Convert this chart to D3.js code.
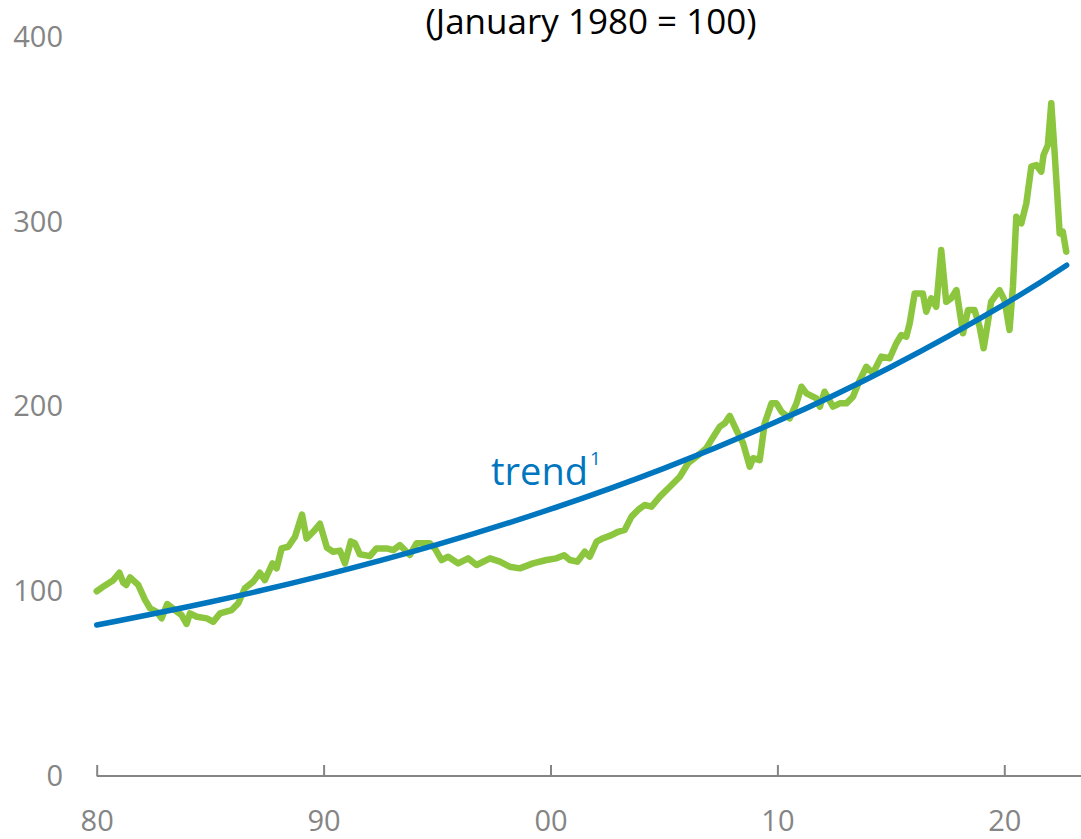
<!DOCTYPE html>
<html>
<head>
<meta charset="utf-8">
<script src="https://cdn.jsdelivr.net/npm/d3@7"></script>
<style>
  html, body { margin: 0; padding: 0; background: #fff; }
  svg { display: block; font-family: "Open Sans", "Noto Sans", sans-serif; }
</style>
</head>
<body>
<svg id="chart" width="1081" height="839"></svg>
<script>
// ---- data ----
const title = "(January 1980 = 100)";
const trendLabel = "trend";
const xTickYears = [1980, 1990, 2000, 2010, 2020];
const xTickLabels = ["80", "90", "00", "10", "20"];
const yTicks = [0, 100, 200, 300, 400];

// index series: decimal year and index value
const indexDates = [
  1980.00,1980.35,1980.73,1981.00,1981.17,1981.30,1981.47,1981.83,1982.13,1982.35,
  1982.64,1982.86,1983.11,1983.45,1983.74,1983.96,1984.11,1984.41,1984.85,1985.14,
  1985.43,1985.95,1986.24,1986.53,1986.90,1987.19,1987.41,1987.75,1987.93,1988.15,
  1988.44,1988.74,1989.05,1989.25,1989.54,1989.84,1990.15,1990.42,1990.72,1990.94,
  1991.20,1991.38,1991.60,1992.04,1992.33,1992.78,1993.07,1993.36,1993.80,1994.10,
  1994.68,1994.90,1995.20,1995.49,1995.93,1996.37,1996.74,1997.33,1997.77,1998.20,
  1998.65,1999.23,1999.82,2000.26,2000.60,2000.85,2001.18,2001.51,2001.73,2002.03,
  2002.32,2002.69,2002.98,2003.27,2003.57,2003.86,2004.15,2004.45,2004.82,2005.26,
  2005.70,2006.06,2006.43,2006.87,2007.09,2007.46,2007.68,2007.90,2008.19,2008.49,
  2008.70,2008.78,2008.93,2009.22,2009.44,2009.74,2009.96,2010.18,2010.54,2010.84,
  2011.06,2011.28,2011.72,2011.87,2012.08,2012.45,2012.75,2013.04,2013.33,2013.63,
  2013.92,2014.21,2014.58,2014.95,2015.24,2015.46,2015.68,2015.83,2016.05,2016.41,
  2016.56,2016.78,2017.00,2017.22,2017.44,2017.66,2017.89,2018.18,2018.40,2018.69,
  2018.91,2019.09,2019.20,2019.42,2019.79,2020.01,2020.23,2020.38,2020.53,2020.75,
  2020.97,2021.19,2021.41,2021.63,2021.73,2021.92,2022.07,2022.22,2022.44,2022.58,
  2022.73
];
const indexValues = [
  100,103,106,110,104.6,103.4,107.5,103.4,95.3,90.8,
  88.9,85.3,93.1,89.8,87.1,82.3,88,86.2,85.3,83.5,
  88,89.8,93.5,101.6,105.2,110,106,115.1,112.4,123.2,
  124.1,129.5,141.5,128.5,132.2,136.5,123.5,121.4,122,115.1,
  127,126,120,119,123.2,123.2,122.3,125,119.6,126,
  126,123.2,116.9,118.7,115.1,117.8,114.2,117.8,116,113.3,
  112.4,115.1,116.9,117.8,119.5,116.9,116,121.4,118.7,126.8,
  128.7,130.4,132.2,133.2,140.4,144,146.7,145.8,151.2,156.6,
  162,169.3,172.8,177.4,181.9,189.1,190.9,194.9,187.3,180.1,
  171,167.4,172,171,190.9,201.7,201.7,197.2,193.6,201.7,
  210.7,207.1,204.4,199.9,208,199.9,201.7,201.7,205.3,214.3,
  221.5,218,227,226.1,234.2,238.7,237.8,245,261.2,261.2,
  251.3,258.6,254,284.7,256.7,258.6,263,239.6,252.2,252.2,
  243.2,231.5,239.6,256.7,263,257.6,241.4,264.8,302.7,299.1,
  309.9,329.8,330.7,327.1,336.1,341.5,364.1,337,293.7,294.6,
  283.8
];

// trend line
const trendDates  = [1980, 1985, 1990, 1995, 2000, 2005, 2010, 2015, 2020, 2022.75];
const trendValues = [81.7, 94.2, 108.6, 125.2, 144.4, 166.5, 192.0, 221.4, 255.3, 276.5];

// ---- drawing ----
const svg = d3.select("#chart");
const x = d3.scaleLinear().domain([1980, 2020]).range([96.7, 1004.3]);
const y = d3.scaleLinear().domain([0, 400]).range([776, 37]);
const grey = "#858585";

// title
svg.append("text")
  .attr("x", 591).attr("y", 34)
  .attr("text-anchor", "middle")
  .attr("font-size", 35)
  .attr("fill", "#000")
  .text(title);

// x axis
const xAxisG = svg.append("g")
  .attr("transform", `translate(0,${y(0)})`)
  .call(d3.axisBottom(x)
    .tickValues(xTickYears)
    .tickFormat((d, i) => xTickLabels[i])
    .tickSizeInner(-11)
    .tickSizeOuter(0)
    .tickPadding(34));
xAxisG.select(".domain").remove();
xAxisG.append("line")
  .attr("x1", x(1980)).attr("x2", 1081)
  .attr("y1", 0).attr("y2", 0)
  .attr("stroke", grey).attr("stroke-width", 2);
xAxisG.selectAll(".tick line").attr("stroke", grey).attr("stroke-width", 2);
xAxisG.selectAll(".tick text")
  .attr("fill", grey).attr("font-size", 29)
  .attr("font-family", '"Open Sans", "Noto Sans", sans-serif');

// y axis labels
const yAxisG = svg.append("g")
  .attr("transform", `translate(63,0)`)
  .call(d3.axisLeft(y).tickValues(yTicks).tickSize(0).tickPadding(0));
yAxisG.select(".domain").remove();
yAxisG.selectAll(".tick text")
  .attr("fill", grey).attr("font-size", 29)
  .attr("font-family", '"Open Sans", "Noto Sans", sans-serif');

// lines
const indexData = indexDates.map((d, i) => [d, indexValues[i]]);
const trendData = trendDates.map((d, i) => [d, trendValues[i]]);

const lineGen = d3.line().x(d => x(d[0])).y(d => y(d[1]));

svg.append("path")
  .datum(indexData)
  .attr("fill", "none")
  .attr("stroke", "#8cc63f")
  .attr("stroke-width", 6.5)
  .attr("stroke-linejoin", "round")
  .attr("stroke-linecap", "round")
  .attr("d", lineGen);

svg.append("path")
  .datum(trendData)
  .attr("fill", "none")
  .attr("stroke", "#0076bf")
  .attr("stroke-width", 5.5)
  .attr("stroke-linecap", "round")
  .attr("d", lineGen.curve(d3.curveNatural));

// trend label
const tl = svg.append("text")
  .attr("x", 491).attr("y", 485)
  .attr("font-size", 38)
  .attr("fill", "#0076bf");
tl.append("tspan").text(trendLabel);
tl.append("tspan").attr("font-size", 19).attr("dy", -20).attr("dx", 2).text("1");
</script>
</body>
</html>
